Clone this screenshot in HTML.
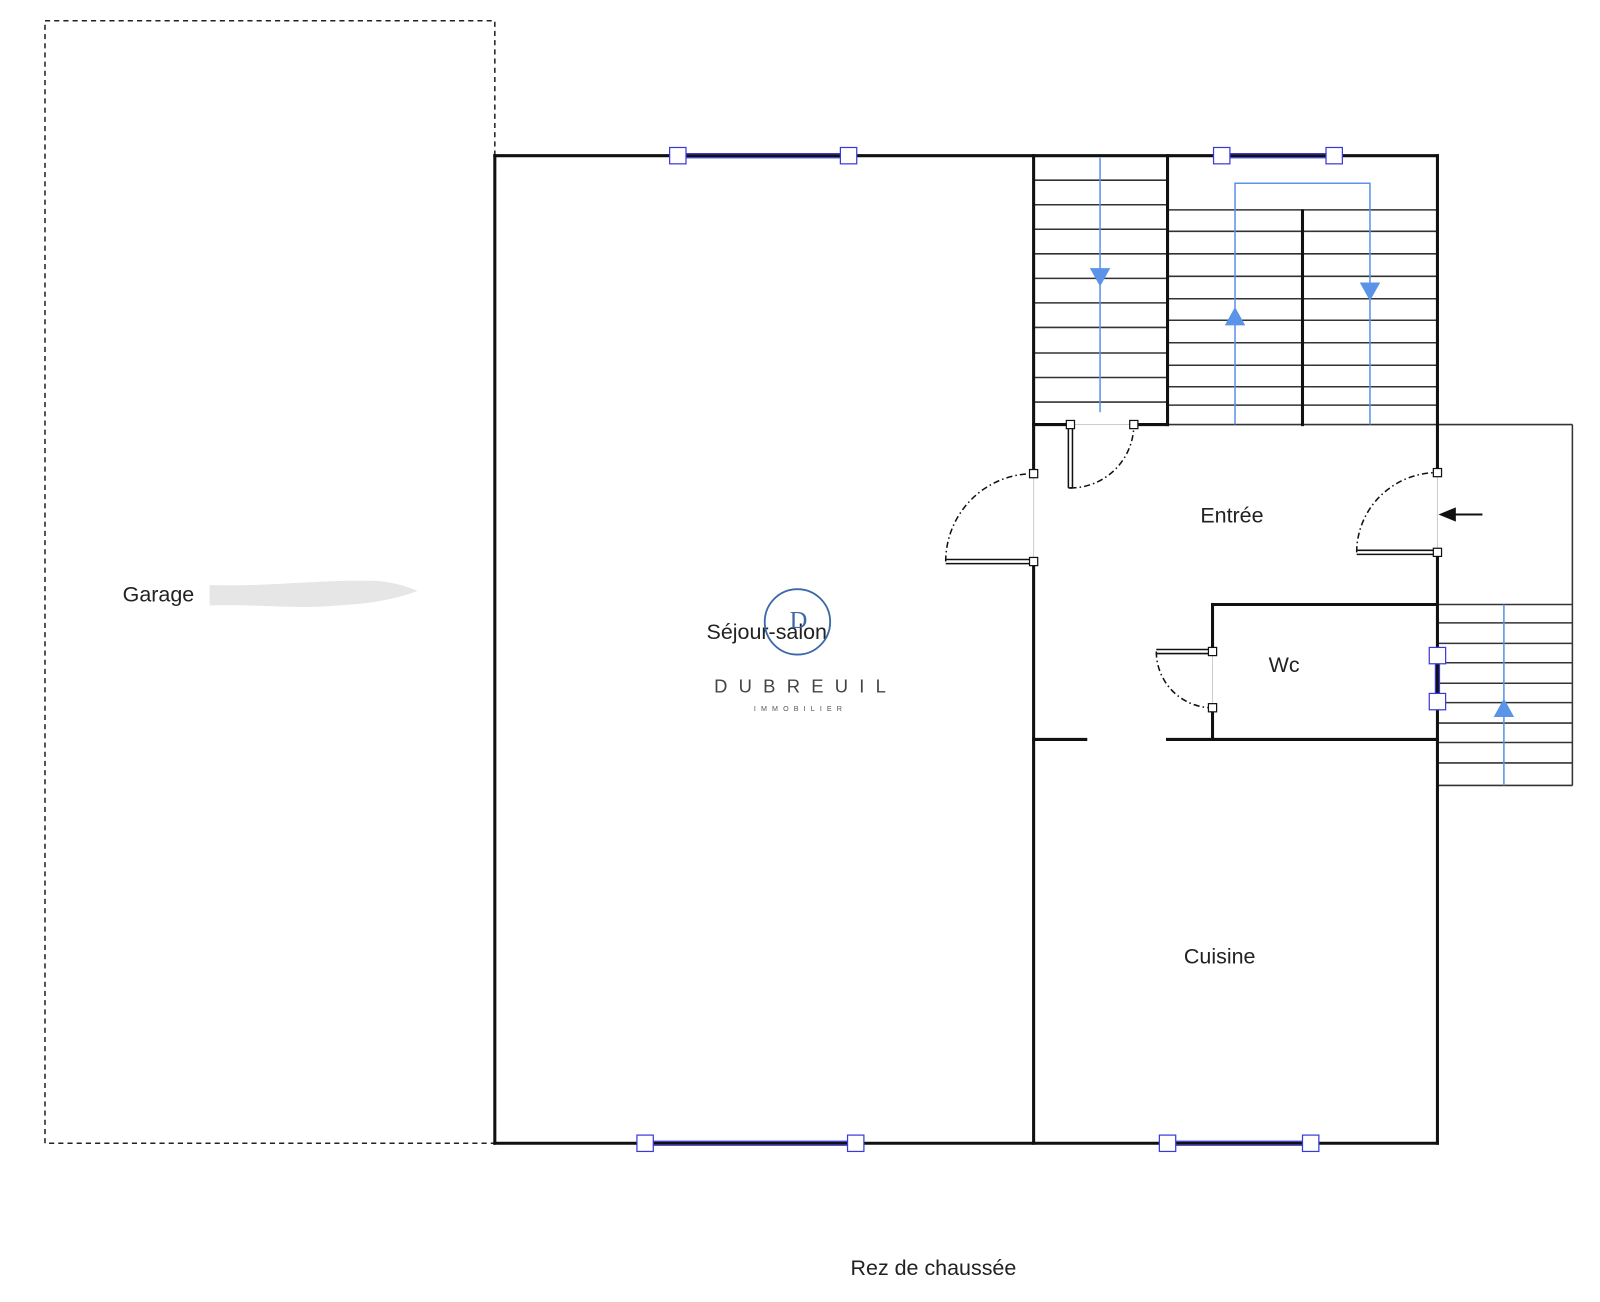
<!DOCTYPE html>
<html><head><meta charset="utf-8"><style>html,body{margin:0;padding:0;background:#fff}svg{display:block}text{font-family:"Liberation Sans",sans-serif;fill:#222}</style></head>
<body>
<svg width="1600" height="1302" viewBox="0 0 1565 1273" xmlns="http://www.w3.org/2000/svg">
<rect width="1565" height="1273" fill="#fff"/>
<path d="M484 152 V20 H44 V1118 H484" fill="none" stroke="#222" stroke-width="1.5" stroke-dasharray="5,4"/>
<path d="M205 572 C260 574 320 566 370 568 C390 570 405 576 408 578 C390 584 370 590 330 592 C290 596 240 590 205 592 Z" fill="#e6e6e6"/>
<g stroke="#333" stroke-width="1.5">
<line x1="1011" y1="176" x2="1142" y2="176"/><line x1="1011" y1="200" x2="1142" y2="200"/><line x1="1011" y1="224" x2="1142" y2="224"/><line x1="1011" y1="248" x2="1142" y2="248"/><line x1="1011" y1="272" x2="1142" y2="272"/><line x1="1011" y1="296" x2="1142" y2="296"/><line x1="1011" y1="320" x2="1142" y2="320"/><line x1="1011" y1="345" x2="1142" y2="345"/><line x1="1011" y1="369" x2="1142" y2="369"/><line x1="1011" y1="393" x2="1142" y2="393"/>
<line x1="1142" y1="205" x2="1406" y2="205"/><line x1="1142" y1="226" x2="1406" y2="226"/><line x1="1142" y1="248" x2="1406" y2="248"/><line x1="1142" y1="270" x2="1406" y2="270"/><line x1="1142" y1="292" x2="1406" y2="292"/><line x1="1142" y1="313" x2="1406" y2="313"/><line x1="1142" y1="335" x2="1406" y2="335"/><line x1="1142" y1="357" x2="1406" y2="357"/><line x1="1142" y1="378" x2="1406" y2="378"/><line x1="1142" y1="396" x2="1406" y2="396"/>
<line x1="1142" y1="415" x2="1538" y2="415"/><line x1="1538" y1="415" x2="1538" y2="768"/>
<line x1="1406" y1="609" x2="1538" y2="609"/><line x1="1406" y1="629" x2="1538" y2="629"/><line x1="1406" y1="648" x2="1538" y2="648"/><line x1="1406" y1="668" x2="1538" y2="668"/><line x1="1406" y1="687" x2="1538" y2="687"/><line x1="1406" y1="707" x2="1538" y2="707"/><line x1="1406" y1="726" x2="1538" y2="726"/><line x1="1406" y1="746" x2="1538" y2="746"/><line x1="1406" y1="768" x2="1538" y2="768"/>
<line x1="1406" y1="591" x2="1538" y2="591"/>
</g>
<g stroke="#ccc" stroke-width="1"><line x1="1011" y1="463" x2="1011" y2="549"/><line x1="1406" y1="462" x2="1406" y2="540"/><line x1="1186" y1="637" x2="1186" y2="692"/><line x1="1047" y1="415" x2="1109" y2="415"/></g>
<g stroke="#5b93e8" stroke-width="1.5" fill="none">
<line x1="1076" y1="154" x2="1076" y2="403"/>
<path d="M1208 415 V179 H1340 V415"/>
<line x1="1471" y1="591" x2="1471" y2="768"/>
</g>
<g fill="#5b93e8">
<path d="M1066 262 L1086 262 L1076 280 Z"/>
<path d="M1198 318 L1218 318 L1208 300 Z"/>
<path d="M1330 276 L1350 276 L1340 294 Z"/>
<path d="M1461 701 L1481 701 L1471 683 Z"/>
</g>
<g stroke="#111" stroke-width="3" fill="none" stroke-linecap="square">
<line x1="484" y1="152" x2="1406" y2="152"/>
<line x1="484" y1="152" x2="484" y2="1118"/>
<line x1="484" y1="1118" x2="1406" y2="1118"/>
<line x1="1406" y1="152" x2="1406" y2="462"/>
<line x1="1406" y1="540" x2="1406" y2="1118"/>
<line x1="1011" y1="152" x2="1011" y2="463"/>
<line x1="1011" y1="549" x2="1011" y2="1118"/>
<line x1="1142" y1="152" x2="1142" y2="415"/>
<line x1="1011" y1="415" x2="1047" y2="415"/>
<line x1="1109" y1="415" x2="1142" y2="415"/>
<line x1="1274" y1="206" x2="1274" y2="415"/>
<line x1="1186" y1="591" x2="1406" y2="591"/>
<line x1="1186" y1="591" x2="1186" y2="637"/>
<line x1="1186" y1="692" x2="1186" y2="723"/>
<line x1="1142" y1="723" x2="1406" y2="723"/>
<line x1="1011" y1="723" x2="1062" y2="723"/>
</g>
<g stroke="#3a3ad8" stroke-width="1.2" fill="#fff">
<line x1="663" y1="150" x2="830" y2="150"/><line x1="663" y1="154" x2="830" y2="154"/>
<line x1="1195" y1="150" x2="1305" y2="150"/><line x1="1195" y1="154" x2="1305" y2="154"/>
<line x1="631" y1="1116" x2="837" y2="1116"/><line x1="631" y1="1120" x2="837" y2="1120"/>
<line x1="1142" y1="1116" x2="1282" y2="1116"/><line x1="1142" y1="1120" x2="1282" y2="1120"/>
<line x1="1404" y1="641" x2="1404" y2="686"/><line x1="1408" y1="641" x2="1408" y2="686"/>
<rect x="655" y="144" width="16" height="16"/><rect x="822" y="144" width="16" height="16"/>
<rect x="1187" y="144" width="16" height="16"/><rect x="1297" y="144" width="16" height="16"/>
<rect x="623" y="1110" width="16" height="16"/><rect x="829" y="1110" width="16" height="16"/>
<rect x="1134" y="1110" width="16" height="16"/><rect x="1274" y="1110" width="16" height="16"/>
<rect x="1398" y="633" width="16" height="16"/><rect x="1398" y="678" width="16" height="16"/>
</g>
<g fill="none" stroke="#111" stroke-width="1.5">
<path d="M925 547 H1011 M925 551 H1011"/>
<path d="M1045 415 V477 M1049 415 V477 M1045 477 H1049"/>
<path d="M1327 538 H1406 M1327 542 H1406"/>
<path d="M1131 635 H1186 M1131 639 H1186"/>
</g>
<g fill="none" stroke="#111" stroke-width="1.5" stroke-dasharray="6,3,1.5,3">
<path d="M925 549 A86 86 0 0 1 1011 463"/>
<path d="M1047 477 A62 62 0 0 0 1109 415"/>
<path d="M1327 540 A79 78 0 0 1 1406 462"/>
<path d="M1131 637 A55 55 0 0 0 1186 692"/>
</g>
<g fill="#fff" stroke="#111" stroke-width="1.2">
<rect x="1007" y="459" width="8" height="8"/><rect x="1007" y="545" width="8" height="8"/>
<rect x="1043" y="411" width="8" height="8"/><rect x="1105" y="411" width="8" height="8"/>
<rect x="1402" y="458" width="8" height="8"/><rect x="1402" y="536" width="8" height="8"/>
<rect x="1182" y="633" width="8" height="8"/><rect x="1182" y="688" width="8" height="8"/>
</g>
<line x1="1420" y1="503" x2="1450" y2="503" stroke="#111" stroke-width="2"/>
<path d="M1407 503 L1424 496 L1424 510 Z" fill="#111"/>
<g font-size="21">
<text x="120" y="588">Garage</text>
<text x="1205" y="511" text-anchor="middle">Entrée</text>
<text x="750" y="625" text-anchor="middle">Séjour-salon</text>
<text x="1256" y="657" text-anchor="middle">Wc</text>
<text x="1193" y="942" text-anchor="middle">Cuisine</text>
<text x="913" y="1247" text-anchor="middle">Rez de chaussée</text>
</g>
<circle cx="780" cy="608" r="32" fill="none" stroke="#3d68a8" stroke-width="1.8"/>
<text x="781" y="614" font-size="24" text-anchor="middle" style="font-family:'Liberation Serif',serif;fill:#3d68a8">D</text>
<text x="788" y="677" font-size="18" text-anchor="middle" letter-spacing="11" style="fill:#444">DUBREUIL</text>
<text x="783" y="695" font-size="7" text-anchor="middle" letter-spacing="5" style="fill:#555">IMMOBILIER</text>
</svg>
</body></html>
